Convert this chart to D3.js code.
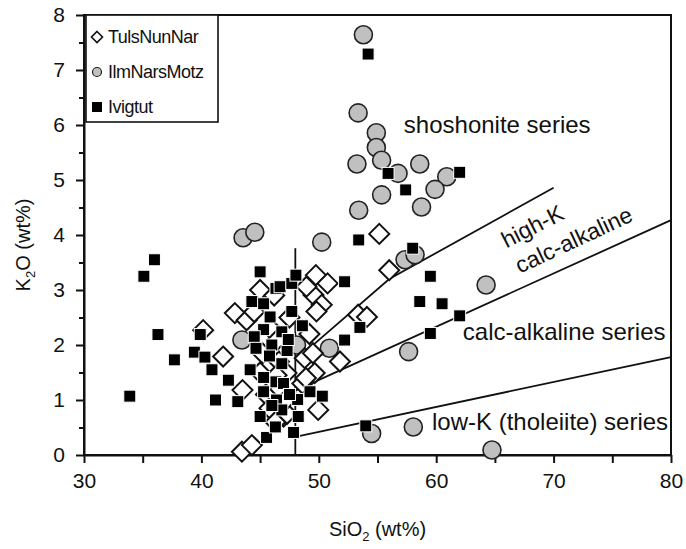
<!DOCTYPE html>
<html>
<head>
<meta charset="utf-8">
<script src="https://cdn.jsdelivr.net/npm/d3@7"></script>
<style>
  html, body { margin: 0; padding: 0; background: #fff; }
  svg { display: block; }
  text { font-family: "Liberation Sans", Arial, Helvetica, sans-serif; fill: #111; }
</style>
</head>
<body>
<svg id="chart" width="686" height="549"></svg>
<script>
// K2O vs SiO2 classification diagram (wt%)

const xTicks = [30, 40, 50, 60, 70, 80];
const yTicks = [0, 1, 2, 3, 4, 5, 6, 7, 8];

// [SiO2, K2O]
const ilmNarsMotz = [
  [53.8, 7.64], [53.35, 6.22], [54.9, 5.86], [54.9, 5.59], [55.35, 5.36], [53.25, 5.29],
  [56.75, 5.12], [58.6, 5.29], [60.9, 5.06], [59.9, 4.83], [55.35, 4.73], [58.75, 4.51],
  [53.4, 4.45], [43.55, 3.95], [44.55, 4.05], [50.25, 3.87], [57.35, 3.55], [58.2, 3.64],
  [57.65, 1.88], [50.9, 1.94], [48.1, 2.0], [54.5, 0.39], [58.05, 0.51], [64.25, 3.09],
  [43.45, 2.09], [64.75, 0.09]
];

const tulsNunNar = [
  [42.85, 2.58], [43.85, 2.45], [41.85, 1.79], [43.5, 1.18], [43.45, 0.06], [44.3, 0.18],
  [40.15, 2.27], [55.15, 4.02], [56.0, 3.36], [53.35, 2.55], [54.1, 2.51], [49.75, 3.27],
  [50.75, 3.12], [49.55, 2.91], [50.25, 2.73], [49.8, 2.61], [48.95, 3.06], [51.8, 1.70],
  [49.65, 1.49], [48.8, 1.76], [49.5, 1.85], [49.95, 0.82], [47.25, 1.49], [47.0, 0.70],
  [45.0, 3.0], [46.2, 2.9], [44.5, 2.6], [45.9, 2.3], [46.5, 2.1], [45.2, 1.85],
  [46.6, 1.7], [45.0, 1.5], [46.4, 1.45], [45.5, 1.1], [46.7, 1.2], [45.8, 0.85],
  [46.3, 0.6], [47.3, 0.75], [47.5, 2.5], [47.2, 1.0], [48.6, 1.3], [49.2, 2.2], [48.9, 1.4]
];

const ivigtut = [
  [33.9, 1.07], [35.1, 3.25], [36.0, 3.55], [36.3, 2.19], [37.7, 1.73], [39.4, 1.87],
  [39.9, 2.19], [40.3, 1.78], [40.9, 1.55], [41.2, 1.0], [42.3, 1.36], [43.1, 0.97],
  [45.0, 3.33], [46.35, 3.03], [44.3, 2.79], [45.3, 2.75], [45.85, 2.51], [45.3, 2.28],
  [44.5, 2.15], [44.65, 1.94], [44.15, 1.55], [45.3, 1.41], [45.3, 1.15], [45.0, 0.70],
  [45.55, 0.32], [46.3, 0.51], [46.35, 1.33], [46.4, 1.0], [46.7, 3.06], [46.85, 2.24],
  [46.85, 1.66], [47.0, 1.30], [46.85, 0.82], [47.7, 3.12], [47.7, 2.61], [48.6, 2.35],
  [48.2, 1.01], [49.25, 1.15], [48.25, 0.70], [47.85, 0.41], [48.05, 3.27], [46.0, 2.0],
  [45.8, 1.8], [47.3, 1.9], [47.5, 1.1], [46.0, 0.9], [47.4, 2.1],
  [50.3, 1.07], [52.2, 2.09], [52.2, 3.15], [53.5, 2.32], [53.4, 3.91], [54.0, 0.53],
  [54.2, 7.29], [55.9, 5.12], [57.4, 4.82], [58.0, 3.76], [59.5, 3.25], [58.6, 2.79],
  [60.5, 2.75], [62.0, 2.53], [59.5, 2.21], [62.0, 5.14]
];

// Series boundary lines
const basaltLimit = [[48, 0], [48, 3.76]];
const lowKLine = [[48, 0.33], [80, 1.78]];
const calcAlkLine = [[48, 1.17], [80, 4.27]];
const highKLine = [[48, 1.72], [56, 3.2], [70, 4.86]];

const fieldLabels = [
  { text: "shoshonite series", x: 65.2, y: 5.85 },
  { text: "calc-alkaline series", x: 70.9, y: 2.1 },
  { text: "low-K (tholeiite) series", x: 69.7, y: 0.45 }
];
const rotatedLabels = [
  { text: "high-K", x: 68.5, y: 4.03, rot: -27 },
  { text: "calc-alkaline", x: 72.0, y: 3.78, rot: -25 }
];

const legendItems = [
  { name: "TulsNunNar", kind: "diamond" },
  { name: "IlmNarsMotz", kind: "circle" },
  { name: "Ivigtut", kind: "square" }
];

const svg = d3.select("#chart");
const plot = { left: 84, right: 671, top: 15, bottom: 455 };

const x = d3.scaleLinear().domain([30, 80]).range([plot.left, plot.right]);
const y = d3.scaleLinear().domain([0, 8]).range([plot.bottom, plot.top]);

// frame
svg.append("rect")
  .attr("x", plot.left).attr("y", plot.top)
  .attr("width", plot.right - plot.left).attr("height", plot.bottom - plot.top)
  .attr("fill", "none").attr("stroke", "#111").attr("stroke-width", 2);

// x axis: ticks every 5, labels every 10
const xAxis = d3.axisBottom(x)
  .tickValues(d3.range(30, 81, 5))
  .tickSize(8).tickSizeOuter(0)
  .tickFormat(d => xTicks.includes(d) ? d : "");
const gx = svg.append("g").attr("transform", `translate(0,${plot.bottom})`).call(xAxis);
gx.select(".domain").attr("stroke", "#111").attr("stroke-width", 2);
gx.selectAll(".tick line").attr("stroke", "#111").attr("stroke-width", 2);
gx.selectAll(".tick text").attr("font-size", 21).attr("dy", "1.05em")
  .style("font-family", "'Liberation Sans', Arial, sans-serif").attr("fill", "#111");

// y axis: major ticks every 1, minor every 0.5
const yMinor = d3.axisLeft(y).tickValues(d3.range(0.5, 8, 1)).tickSize(5).tickSizeOuter(0).tickFormat("");
const gym = svg.append("g").attr("transform", `translate(${plot.left},0)`).call(yMinor);
gym.select(".domain").remove();
gym.selectAll(".tick line").attr("stroke", "#111").attr("stroke-width", 2);

const yAxis = d3.axisLeft(y).tickValues(yTicks).tickSize(8).tickSizeOuter(0).tickPadding(11);
const gy = svg.append("g").attr("transform", `translate(${plot.left},0)`).call(yAxis);
gy.select(".domain").attr("stroke", "#111").attr("stroke-width", 2);
gy.selectAll(".tick line").attr("stroke", "#111").attr("stroke-width", 2);
gy.selectAll(".tick text").attr("font-size", 21)
  .style("font-family", "'Liberation Sans', Arial, sans-serif").attr("fill", "#111");

// axis titles
const xt = svg.append("text").attr("x", (plot.left + plot.right) / 2).attr("y", 536)
  .attr("text-anchor", "middle").attr("font-size", 20);
xt.append("tspan").text("SiO");
xt.append("tspan").attr("font-size", 13).attr("dy", 5).text("2");
xt.append("tspan").attr("dy", -5).text(" (wt%)");

const yt = svg.append("text")
  .attr("transform", `translate(30,${(plot.top + plot.bottom) / 2 + 10}) rotate(-90)`)
  .attr("text-anchor", "middle").attr("font-size", 20);
yt.append("tspan").text("K");
yt.append("tspan").attr("font-size", 13).attr("dy", 5).text("2");
yt.append("tspan").attr("dy", -5).text("O (wt%)");

// boundary lines
const line = d3.line().x(d => x(d[0])).y(d => y(d[1]));
[basaltLimit, lowKLine, calcAlkLine, highKLine].forEach(pts => {
  svg.append("path").attr("d", line(pts)).attr("fill", "none")
    .attr("stroke", "#111").attr("stroke-width", 1.8);
});

// field labels
fieldLabels.forEach(l => {
  svg.append("text").attr("x", x(l.x)).attr("y", y(l.y))
    .attr("text-anchor", "middle").attr("font-size", 24).text(l.text);
});
rotatedLabels.forEach(l => {
  svg.append("text")
    .attr("transform", `translate(${x(l.x)},${y(l.y)}) rotate(${l.rot})`)
    .attr("text-anchor", "middle").attr("font-size", 23).text(l.text);
});

// markers
const circleR = 9, sqSize = 12, diaR = 10;
const drawCircle = (g, cx, cy, r) => g.append("circle").attr("cx", cx).attr("cy", cy).attr("r", r)
  .attr("fill", "#c0c0c0").attr("stroke", "#222").attr("stroke-width", 1.6);
const drawDiamond = (g, cx, cy, r) => g.append("path")
  .attr("d", `M${cx},${cy - r}L${cx + r},${cy}L${cx},${cy + r}L${cx - r},${cy}Z`)
  .attr("fill", "#fff").attr("stroke", "#111").attr("stroke-width", 2);
const drawSquare = (g, cx, cy, s) => g.append("rect").attr("x", cx - s / 2).attr("y", cy - s / 2)
  .attr("width", s).attr("height", s).attr("fill", "#000").attr("stroke", "#fff").attr("stroke-width", 1);

const gPts = svg.append("g");
ilmNarsMotz.forEach(d => drawCircle(gPts, x(d[0]), y(d[1]), circleR));
tulsNunNar.forEach(d => drawDiamond(gPts, x(d[0]), y(d[1]), diaR));
ivigtut.forEach(d => drawSquare(gPts, x(d[0]), y(d[1]), sqSize));

// legend
const lg = svg.append("g");
lg.append("rect").attr("x", plot.left + 2).attr("y", plot.top)
  .attr("width", 132).attr("height", 107)
  .attr("fill", "#fff").attr("stroke", "#111").attr("stroke-width", 1.6);
legendItems.forEach((it, i) => {
  const cy = 37 + i * 35, cx = 97;
  if (it.kind === "diamond") drawDiamond(lg, cx, cy, 5.5).attr("stroke-width", 1.6);
  if (it.kind === "circle") drawCircle(lg, cx, cy, 4.5).attr("stroke-width", 1.2);
  if (it.kind === "square") lg.append("rect").attr("x", cx - 5).attr("y", cy - 5)
    .attr("width", 10).attr("height", 10).attr("fill", "#000");
  lg.append("text").attr("x", 108).attr("y", cy + 6).attr("font-size", 18)
    .style("font-family", "'Liberation Sans Narrow', 'Liberation Sans', Arial, sans-serif")
    .attr("letter-spacing", -0.5).text(it.name);
});
</script>
</body>
</html>
